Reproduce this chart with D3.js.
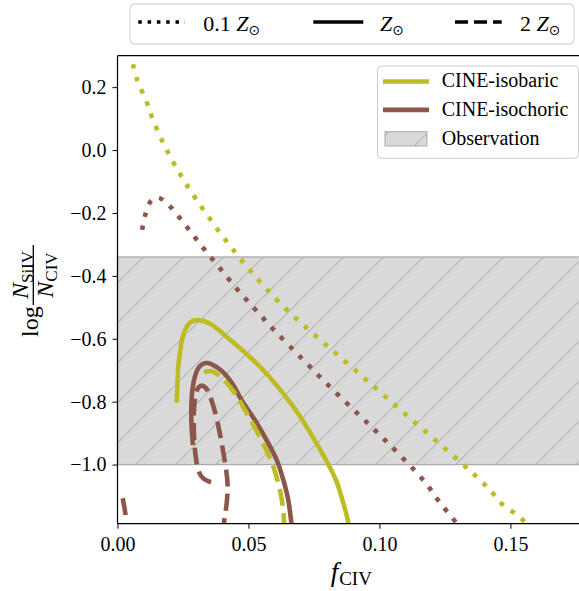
<!DOCTYPE html>
<html><head><meta charset="utf-8">
<script src="https://cdn.jsdelivr.net/npm/d3@7"></script>
<style>
body{margin:0;background:#fff}
svg{display:block}
text{font-family:"Liberation Serif","Times New Roman","DejaVu Serif",serif;fill:#000}
</style>
</head><body>
<svg id="c" width="579" height="591"></svg>
<script>
// ---------- data ----------
const xTicks = [0, 0.05, 0.10, 0.15];
const yTicks = [-1.0, -0.8, -0.6, -0.4, -0.2, 0.0, 0.2];
const xDomain = [0, 0.18];
const yDomain = [-1.188, 0.3];
const obsRange = [-1.0, -0.34];

const models = ["CINE-isobaric", "CINE-isochoric"];
const modelColors = ["#bcbd22", "#8c564b"];
const metallicities = ["0.1", "1", "2"];
const obsLabel = "Observation";

// isobaric, 0.1 Zsun (dotted)
const isobaric01 = [[0.0059,0.273],[0.0073,0.228],[0.0113,0.149],[0.0131,0.106],[0.0171,0.029],[0.0219,-0.048],
  [0.0300,-0.156],[0.0452,-0.328],[0.0620,-0.486],[0.0964,-0.741],[0.1384,-1.049],[0.1433,-1.091],
  [0.1471,-1.128],[0.1540,-1.170],[0.1575,-1.205]];
// isochoric, 0.1 Zsun (dotted)
const isochoric01 = [[0.0094,-0.254],[0.0104,-0.212],[0.0120,-0.172],[0.0135,-0.156],[0.0158,-0.152],[0.0198,-0.177],
  [0.0264,-0.244],[0.0327,-0.311],[0.0391,-0.376],[0.0456,-0.442],[0.0525,-0.506],[0.0594,-0.569],
  [0.0703,-0.662],[0.0811,-0.753],[0.0918,-0.839],[0.0993,-0.899],[0.1167,-1.049],[0.1231,-1.121],
  [0.1295,-1.187],[0.1310,-1.205]];
// isobaric, 1 Zsun (solid)
const isobaric1 = [[0.0226,-0.803],[0.0228,-0.763],[0.0232,-0.689],[0.0239,-0.642],[0.0246,-0.604],[0.0258,-0.572],
  [0.0273,-0.552],[0.0292,-0.542],[0.0311,-0.541],[0.0334,-0.545],[0.0361,-0.556],[0.0417,-0.594],
  [0.0544,-0.689],[0.0671,-0.816],[0.0767,-0.943],[0.0834,-1.049],[0.0853,-1.097],[0.0870,-1.145],
  [0.0882,-1.188],[0.0886,-1.205]];
// isochoric, 1 Zsun (solid)
const isochoric1 = [[0.0288,-0.938],[0.0282,-0.859],[0.0284,-0.779],[0.0294,-0.725],[0.0309,-0.693],[0.0326,-0.680],
  [0.0345,-0.677],[0.0368,-0.685],[0.0399,-0.703],[0.0437,-0.741],[0.0474,-0.795],[0.0525,-0.859],
  [0.0569,-0.922],[0.0608,-0.986],[0.0633,-1.049],[0.0652,-1.113],[0.0664,-1.188],[0.0666,-1.205]];
// isobaric, 2 Zsun (dashed)
const isobaric2 = [[0.0330,-0.706],[0.0361,-0.703],[0.0399,-0.725],[0.0448,-0.773],[0.0487,-0.827],[0.0556,-0.933],
  [0.0595,-1.007],[0.0620,-1.081],[0.0633,-1.145],[0.0636,-1.188],[0.0637,-1.205]];
// isochoric, 2 Zsun (dashed), two branches
const isochoric2 = [[0.0357,-1.056],[0.0330,-1.046],[0.0311,-1.024],[0.0298,-0.970],[0.0292,-0.906],[0.0292,-0.827],
  [0.0298,-0.779],[0.0309,-0.755],[0.0323,-0.749],[0.0338,-0.757],[0.0353,-0.782],[0.0368,-0.820],
  [0.0384,-0.874],[0.0399,-0.938],[0.0412,-1.002],[0.0420,-1.059],[0.0418,-1.113],[0.0406,-1.188],[0.0404,-1.205]];
const isochoric2b = [[0.0020,-1.107],[0.0027,-1.140],[0.0035,-1.181]];

// ---------- drawing ----------
const SERIF = '"Liberation Serif","Times New Roman","DejaVu Serif",serif';
const svg = d3.select("#c");
const L = 117.5, T = 55.7, R = 589, B = 523.7;
const x = d3.scaleLinear().domain(xDomain).range([L, R]);
const y = d3.scaleLinear().domain(yDomain).range([B, T]);

const defs = svg.append("defs");
const pat = defs.append("pattern").attr("id","hatch").attr("patternUnits","userSpaceOnUse")
  .attr("width",40).attr("height",40).attr("patternTransform","translate(0.4,0)");
pat.append("rect").attr("width",40).attr("height",40).attr("fill","#d9d9d9");
pat.append("path").attr("d","M0,40L40,0M-10,10L10,-10M30,50L50,30")
  .attr("stroke","#a3a3a3").attr("stroke-width",1).attr("fill","none");
defs.append("clipPath").attr("id","clip").append("rect")
  .attr("x",L).attr("y",T).attr("width",R-L).attr("height",B-T);

// observation band
svg.append("rect").attr("x",L).attr("width",R-L)
  .attr("y",y(obsRange[1])).attr("height",y(obsRange[0])-y(obsRange[1]))
  .attr("fill","url(#hatch)").attr("stroke","#ababab").attr("stroke-width",1.3);

const lw = 4.6;
const dashes = {"0.1": `${lw} ${8.6}`, "1": null, "2": `17 7.4`};
const curves = [
  {m:0, z:"0.1", segs:[isobaric01]},
  {m:1, z:"0.1", segs:[isochoric01]},
  {m:0, z:"1", segs:[isobaric1]},
  {m:1, z:"1", segs:[isochoric1]},
  {m:0, z:"2", segs:[isobaric2]},
  {m:1, z:"2", segs:[isochoric2, isochoric2b]},
];
const line = d3.line().x(d=>x(d[0])).y(d=>y(d[1])).curve(d3.curveCatmullRom.alpha(0.5));
const gC = svg.append("g").attr("clip-path","url(#clip)");
curves.forEach(c=>{
  c.segs.forEach(s=>{
    const p = gC.append("path").attr("d", line(s)).attr("fill","none")
      .attr("stroke", modelColors[c.m]).attr("stroke-width", lw).attr("stroke-linecap","butt");
    if (dashes[c.z]) p.attr("stroke-dasharray", dashes[c.z]);
  });
});

// axes
const fmt = d3.format(".1f");
const ax = svg.append("g").attr("transform",`translate(0,${B})`)
  .call(d3.axisBottom(x).tickValues(xTicks).tickFormat(d3.format(".2f")).tickSize(5).tickPadding(8));
const ay = svg.append("g").attr("transform",`translate(${L},0)`)
  .call(d3.axisLeft(y).tickValues(yTicks).tickFormat(fmt).tickSize(5).tickPadding(6));
[ax, ay].forEach(a=>{
  a.attr("font-family", null).attr("font-size", null);
  a.select(".domain").remove();
  a.selectAll("text").style("font-size","20px").style("font-family",SERIF);
  a.selectAll("line").attr("stroke","#000").attr("stroke-width",1);
});
// spines
svg.append("line").attr("x1",L).attr("x2",L).attr("y1",T).attr("y2",B).attr("stroke","#000").attr("stroke-width",1.2);
svg.append("line").attr("x1",L).attr("x2",R).attr("y1",B).attr("y2",B).attr("stroke","#000").attr("stroke-width",1.2);
svg.append("line").attr("x1",L).attr("x2",R).attr("y1",T).attr("y2",T).attr("stroke","#000").attr("stroke-width",1.2);
svg.append("line").attr("x1",R).attr("x2",R).attr("y1",T).attr("y2",B).attr("stroke","#000").attr("stroke-width",1.2);

// x label
const xl = svg.append("text").attr("x",(L+R)/2-2).attr("y",581).attr("text-anchor","middle").style("font-size","27px");
xl.append("tspan").attr("font-style","italic").text("f");
xl.append("tspan").style("font-size","19px").attr("dy",4).attr("dx",1).text("CIV");

// y label
const yl = svg.append("g").attr("transform","translate(38.3,337) rotate(-90)");
yl.append("text").attr("x",0).attr("y",0).style("font-size","24px").text("log");
const fc = 62;
yl.append("line").attr("x1",fc-30).attr("x2",fc+30).attr("y1",-5).attr("y2",-5).attr("stroke","#000").attr("stroke-width",1.3);
const num = yl.append("text").attr("x",fc).attr("y",-10).attr("text-anchor","middle").style("font-size","24px");
num.append("tspan").attr("font-style","italic").text("N");
num.append("tspan").style("font-size","17px").attr("dy",4.5).text("SiIV");
const den = yl.append("text").attr("x",fc).attr("y",14.2).attr("text-anchor","middle").style("font-size","24px");
den.append("tspan").attr("font-style","italic").text("N");
den.append("tspan").style("font-size","17px").attr("dy",4.5).text("CIV");

// right legend
const lg = svg.append("g");
lg.append("rect").attr("x",377.5).attr("y",66).attr("width",201).attr("height",92.3).attr("rx",4)
  .attr("fill","#fff").attr("fill-opacity",0.8).attr("stroke","#cccccc").attr("stroke-width",1);
const lgY = [87.3, 115.7];
models.forEach((m,i)=>{
  lg.append("line").attr("x1",383).attr("x2",429).attr("y1",lgY[i]-5.8).attr("y2",lgY[i]-5.8)
    .attr("stroke",modelColors[i]).attr("stroke-width",lw);
  lg.append("text").attr("x",441.7).attr("y",lgY[i]).style("font-size","20px").text(m);
});
lg.append("rect").attr("x",385).attr("y",131.7).attr("width",42).attr("height",14.3)
  .attr("fill","url(#hatch)").attr("stroke","#ababab").attr("stroke-width",1);
lg.append("text").attr("x",441.7).attr("y",145).style("font-size","20px").text(obsLabel);

// top legend
const tg = svg.append("g");
tg.append("rect").attr("x",130).attr("y",4).attr("width",444).attr("height",40).attr("rx",4)
  .attr("fill","#fff").attr("stroke","#cccccc").attr("stroke-width",1);
const topItems = [
  {z:"0.1", x1:138.3, x2:185, tx:203.3, dash:"3.5 5.8", pre:"0.1 "},
  {z:"1", x1:313.3, x2:363.3, tx:380, dash:null, pre:""},
  {z:"2", x1:455, x2:501.7, tx:520, dash:"13 6", pre:"2 "},
];
topItems.forEach(t=>{
  const l = tg.append("line").attr("x1",t.x1).attr("x2",t.x2).attr("y1",22).attr("y2",22)
    .attr("stroke","#000").attr("stroke-width",3.5);
  if (t.dash) l.attr("stroke-dasharray",t.dash);
  const tx = tg.append("text").attr("x",t.tx).attr("y",30.5).style("font-size","22px");
  if (t.pre) tx.append("tspan").text(t.pre);
  tx.append("tspan").attr("font-style","italic").text("Z");
  tx.append("tspan").style("font-size","14px").style("font-family","DejaVu Sans").attr("dy",4).text("\u2299");
});
</script>
</body></html>
